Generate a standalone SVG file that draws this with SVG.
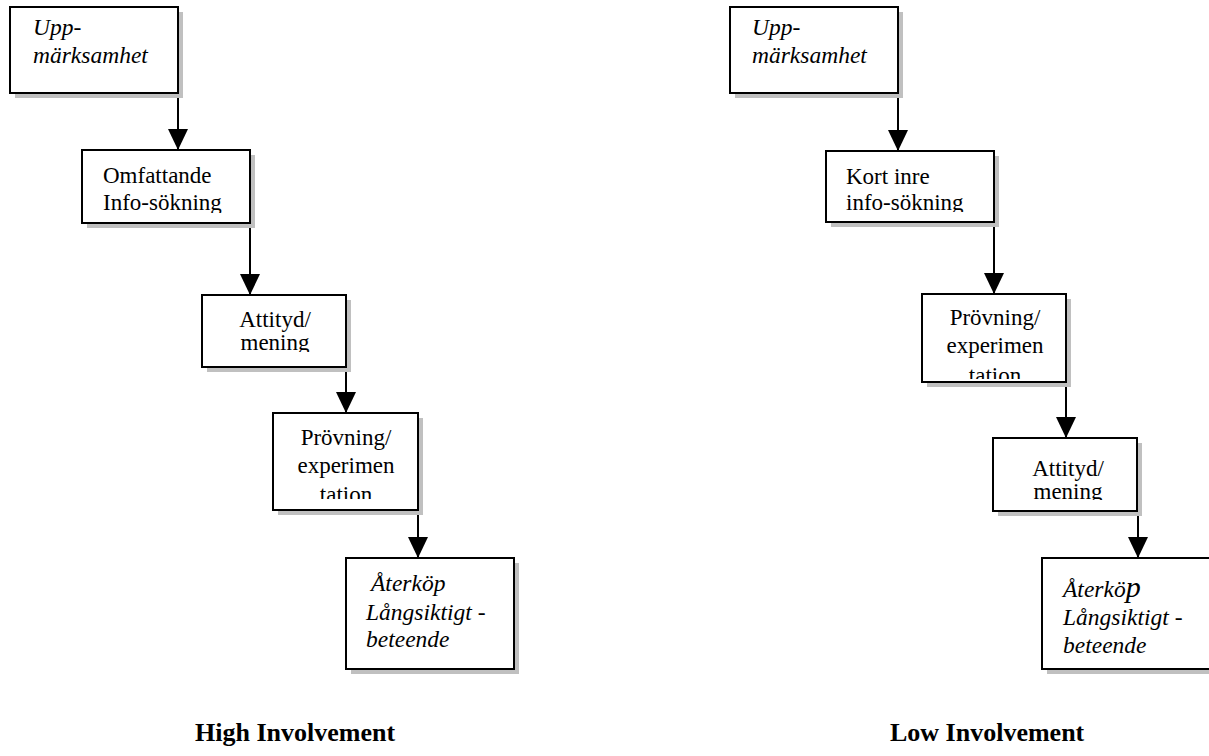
<svg xmlns="http://www.w3.org/2000/svg" width="1209" height="756" viewBox="0 0 1209 756">
<style>
.shadow{fill:#c0c0c0}
.box{fill:#fff;stroke:#000;stroke-width:2}
.t{font-family:"Liberation Serif","Times New Roman",serif;font-size:23px;fill:#000}
.i{font-style:italic;font-size:23.5px}
.c{text-anchor:middle}
.title{font-family:"Liberation Serif","Times New Roman",serif;font-size:26px;font-weight:bold;fill:#000}
.conn{fill:none;stroke:#000;stroke-width:2}
</style>
<defs>
<marker id="ah" markerUnits="userSpaceOnUse" markerWidth="21" markerHeight="20" viewBox="0 0 21 20" refX="21" refY="10" orient="auto">
<path d="M0,0 L21,10 L0,20 z" fill="#000"/>
</marker>
<clipPath id="cL2"><rect x="82" y="150" width="168" height="63"/></clipPath>
<clipPath id="cL3"><rect x="202" y="295" width="144" height="57"/></clipPath>
<clipPath id="cL4"><rect x="273" y="413" width="145" height="86"/></clipPath>
<clipPath id="cR2"><rect x="826" y="151" width="168" height="61"/></clipPath>
<clipPath id="cR3"><rect x="922" y="294" width="144" height="85"/></clipPath>
<clipPath id="cR4"><rect x="993" y="438" width="144" height="62"/></clipPath>
</defs>

<g id="connectors">
<path class="conn" d="M178,93 V150" marker-end="url(#ah)"/>
<path class="conn" d="M250,223 V295" marker-end="url(#ah)"/>
<path class="conn" d="M346,367 V413" marker-end="url(#ah)"/>
<path class="conn" d="M418,510 V558" marker-end="url(#ah)"/>
<path class="conn" d="M898,93 V151" marker-end="url(#ah)"/>
<path class="conn" d="M994,222 V294" marker-end="url(#ah)"/>
<path class="conn" d="M1066,382 V438" marker-end="url(#ah)"/>
<path class="conn" d="M1138,511 V558" marker-end="url(#ah)"/>
</g>

<g id="hi-uppmarksamhet">
<rect class="shadow" x="15" y="12" width="168" height="86"/>
<rect class="box" x="10" y="7" width="168" height="86"/>
<text class="t i" x="33" y="35">Upp-</text>
<text class="t i" x="33" y="63">märksamhet</text>
</g>
<g id="hi-infosokning">
<rect class="shadow" x="87" y="155" width="168" height="73"/>
<rect class="box" x="82" y="150" width="168" height="73"/>
<g clip-path="url(#cL2)">
<text class="t" x="103" y="183">Omfattande</text>
<text class="t" x="103" y="210">Info-sökning</text>
</g>
</g>
<g id="hi-attityd">
<rect class="shadow" x="207" y="300" width="144" height="72"/>
<rect class="box" x="202" y="295" width="144" height="72"/>
<g clip-path="url(#cL3)">
<text class="t c" x="275" y="327">Attityd/</text>
<text class="t c" x="275" y="350">mening</text>
</g>
</g>
<g id="hi-provning">
<rect class="shadow" x="278" y="418" width="145" height="97"/>
<rect class="box" x="273" y="413" width="145" height="97"/>
<g clip-path="url(#cL4)">
<text class="t c" x="346" y="445">Prövning/</text>
<text class="t c" x="346" y="473">experimen</text>
<text class="t c" x="346" y="502">tation</text>
</g>
</g>
<g id="hi-aterkop">
<rect class="shadow" x="351" y="563" width="168" height="111"/>
<rect class="box" x="346" y="558" width="168" height="111"/>
<text class="t i" x="371" y="591">Återköp</text>
<text class="t i" x="366" y="620">Långsiktigt -</text>
<text class="t i" x="366" y="647">beteende</text>
</g>

<g id="lo-uppmarksamhet">
<rect class="shadow" x="735" y="12" width="168" height="86"/>
<rect class="box" x="730" y="7" width="168" height="86"/>
<text class="t i" x="752" y="35">Upp-</text>
<text class="t i" x="752" y="63">märksamhet</text>
</g>
<g id="lo-infosokning">
<rect class="shadow" x="831" y="156" width="168" height="71"/>
<rect class="box" x="826" y="151" width="168" height="71"/>
<g clip-path="url(#cR2)">
<text class="t" x="846" y="184">Kort inre</text>
<text class="t" x="846" y="210">info-sökning</text>
</g>
</g>
<g id="lo-provning">
<rect class="shadow" x="927" y="299" width="144" height="88"/>
<rect class="box" x="922" y="294" width="144" height="88"/>
<g clip-path="url(#cR3)">
<text class="t c" x="995" y="325">Prövning/</text>
<text class="t c" x="995" y="353">experimen</text>
<text class="t c" x="995" y="383">tation</text>
</g>
</g>
<g id="lo-attityd">
<rect class="shadow" x="998" y="443" width="144" height="73"/>
<rect class="box" x="993" y="438" width="144" height="73"/>
<g clip-path="url(#cR4)">
<text class="t c" x="1068" y="476">Attityd/</text>
<text class="t c" x="1068" y="499">mening</text>
</g>
</g>
<g id="lo-aterkop">
<rect class="shadow" x="1047" y="563" width="168" height="111"/>
<rect class="box" x="1042" y="558" width="168" height="111"/>
<text class="t i" x="1063" y="597">Återkö<tspan font-size="30">p</tspan></text>
<text class="t i" x="1063" y="625">Långsiktigt -</text>
<text class="t i" x="1063" y="653">beteende</text>
</g>

<g id="titles">
<text class="title" x="195" y="741">High Involvement</text>
<text class="title" x="890" y="741">Low Involvement</text>
</g>
</svg>
